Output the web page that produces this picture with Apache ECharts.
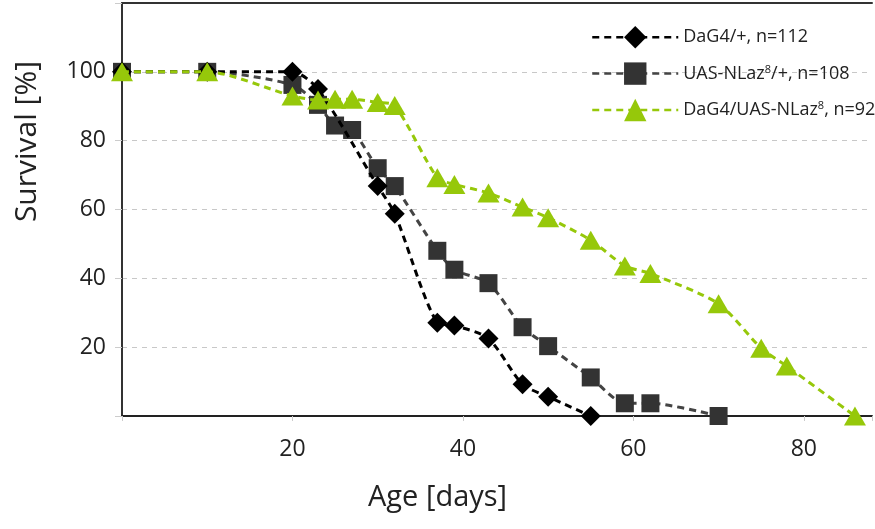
<!DOCTYPE html>
<html>
<head>
<meta charset="utf-8">
<script src="https://cdn.jsdelivr.net/npm/echarts@6/dist/echarts.min.js"></script>
<style>html,body{margin:0;padding:0;background:#fff}#c{width:875px;height:529px}</style>
</head>
<body>
<div id="c"></div>
<script>
// Data
const seriesNames = ['DaG4/+, n=112', 'UAS-NLaz8/+, n=108', 'DaG4/UAS-NLaz8, n=92'];
const daysA = [0, 10, 20, 23, 30, 32, 37, 39, 43, 47, 50, 55];
const valsA = [100, 100, 100, 95, 66.8, 58.8, 27.1, 26.3, 22.5, 9.2, 5.6, 0];
const daysB = [0, 10, 20, 23, 25, 27, 30, 32, 37, 39, 43, 47, 50, 55, 59, 62, 70];
const valsB = [100, 100, 96.2, 90.4, 84.4, 83.1, 72, 66.8, 48, 42.5, 38.6, 25.8, 20.3, 11.2, 3.7, 3.7, 0];
const daysC = [0, 10, 20, 23, 25, 27, 30, 32, 37, 39, 43, 47, 50, 55, 59, 62, 70, 75, 78, 86];
const valsC = [100, 100, 93, 91.8, 92, 92, 91.1, 90.2, 69.2, 67.3, 64.8, 60.7, 57.6, 51.1, 43.6, 41.4, 32.6, 19.7, 14.5, 0];
const xTicks = [20, 40, 60, 80];
const yTicks = [20, 40, 60, 80, 100];

const zip = (xs, ys) => xs.map((x, i) => [x, ys[i]]);
const FONT = 'Open Sans';
const GREEN = '#96c80a';
const DASH = [7, 5];

const chart = echarts.init(document.getElementById('c'), null, {renderer: 'canvas'});
chart.setOption({
  animation: false,
  backgroundColor: '#fff',
  textStyle: {fontFamily: FONT},
  grid: {left: 122, right: 0, top: 3, bottom: 113, containLabel: false},
  xAxis: [{
    type: 'value', min: 0, max: 88, interval: 20,
    axisLine: {show: true, onZero: false, lineStyle: {color: '#222', width: 2}},
    axisTick: {show: true, length: 5, lineStyle: {color: '#ccc'}},
    axisLabel: {
      margin: 22, fontSize: 23, color: '#222', fontFamily: FONT,
      formatter: v => xTicks.includes(v) ? String(v) : ''
    },
    splitLine: {show: false}
  }, {
    type: 'value', position: 'top', min: 0, max: 88,
    axisLine: {show: true, onZero: false, lineStyle: {color: '#333', width: 2}},
    axisTick: {show: false}, axisLabel: {show: false}, splitLine: {show: false}
  }],
  yAxis: {
    type: 'value', min: 0, max: 120, interval: 20,
    axisLine: {show: true, onZero: false, lineStyle: {color: '#333', width: 2}},
    axisTick: {show: true, length: 7, lineStyle: {color: '#ccc'}},
    axisLabel: {
      margin: 16, fontSize: 23, color: '#222', fontFamily: FONT,
      formatter: v => yTicks.includes(v) ? String(v) : ''
    },
    splitLine: {show: true, lineStyle: {color: '#c8c8c8', type: [5, 5], width: 1}}
  },
  legend: {
    left: 586, top: 21, orient: 'vertical',
    itemWidth: 86, itemHeight: 28, itemGap: 14,
    data: seriesNames,
    lineStyle: {width: 2.5},
    textStyle: {
      fontSize: 18, color: '#222', fontFamily: FONT, padding: [0, 0, 0, 0],
      rich: {
        sup: {fontSize: 11, verticalAlign: 'top', padding: [0, 0, 8, 0], color: '#222', fontFamily: FONT},
        t: {fontSize: 18, color: '#222', fontFamily: FONT}
      }
    },
    formatter: name => name.indexOf('NLaz8') >= 0
      ? name.split('NLaz8').map(s => '{t|' + s + '}').join('{t|NLaz}{sup|8}')
      : name
  },
  graphic: [{
    type: 'text', left: 12, top: 61, rotation: Math.PI / 2,
    style: {text: 'Survival [%]', font: '30px "Open Sans"', fill: '#222'}
  }, {
    type: 'text', left: 368, top: 483,
    style: {text: 'Age [days]', font: '29px "Open Sans"', fill: '#222'}
  }],
  series: [{
    name: seriesNames[1], type: 'line', data: zip(daysB, valsB), z: 2, clip: false,
    smooth: 0.25,
    symbol: 'rect', symbolSize: 18,
    itemStyle: {color: '#333'},
    lineStyle: {color: '#444', width: 3, type: DASH}
  }, {
    name: seriesNames[0], type: 'line', data: zip(daysA, valsA), z: 3, clip: false,
    smooth: 0.25,
    symbol: 'diamond', symbolSize: [20, 20],
    itemStyle: {color: '#000'},
    lineStyle: {color: '#000', width: 3, type: DASH}
  }, {
    name: seriesNames[2], type: 'line', data: zip(daysC, valsC), z: 4, clip: false,
    smooth: 0.25,
    symbol: 'triangle', symbolSize: [22, 19],
    itemStyle: {color: GREEN},
    lineStyle: {color: GREEN, width: 3, type: DASH}
  }]
});
</script>
</body>
</html>
